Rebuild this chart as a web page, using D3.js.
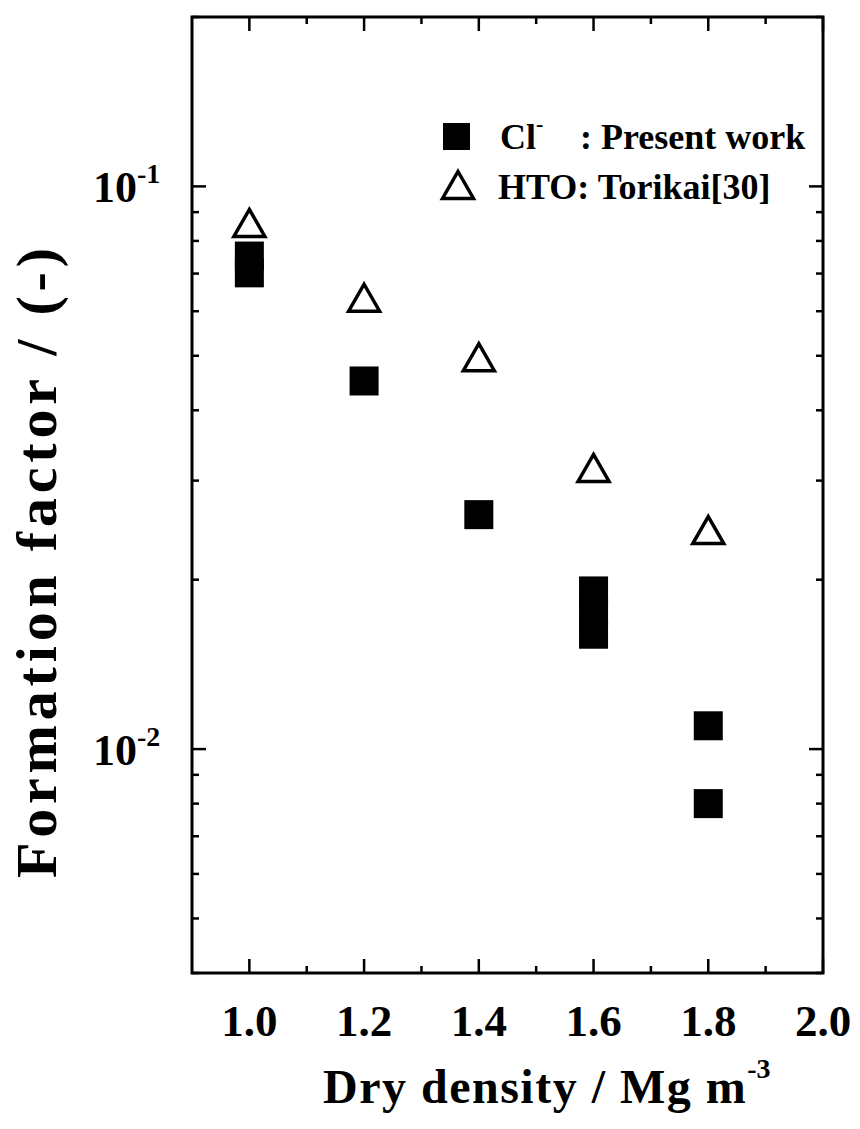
<!DOCTYPE html>
<html>
<head>
<meta charset="utf-8">
<script src="https://cdn.jsdelivr.net/npm/d3@7"></script>
<style>
  body { margin: 0; background: #fff; }
  text { font-family: "Liberation Serif", "Times New Roman", serif; font-weight: bold; fill: #000; }
</style>
</head>
<body>
<div id="viz"></div>
<script>
// data
var densities = [1.0, 1.2, 1.4, 1.6, 1.8];
var htoValues = [0.0861, 0.0634, 0.0497, 0.0316, 0.0245];
var clDensity = [1.0, 1.0, 1.2, 1.4, 1.6, 1.6, 1.6, 1.8, 1.8];
var clValues  = [0.0752, 0.0702, 0.0451, 0.0261, 0.0191, 0.0175, 0.0160, 0.0110, 0.0080];
var xTicks = [1.0, 1.2, 1.4, 1.6, 1.8, 2.0];
var xMinor = [1.1, 1.3, 1.5, 1.7, 1.9];
var yMajor = [0.01, 0.1];
var yMinor = [0.004, 0.005, 0.006, 0.007, 0.008, 0.009, 0.02, 0.03, 0.04, 0.05, 0.06, 0.07, 0.08, 0.09, 0.2];

var width = 860, height = 1129;
var plotL = 192, plotR = 823, plotT = 17, plotB = 973;

var x = d3.scaleLinear().domain([0.9, 2.0]).range([plotL, plotR]);
var y = d3.scaleLog().domain([0.004, 0.2]).range([plotB, plotT]);

var svg = d3.select('#viz').append('svg')
  .attr('width', width)
  .attr('height', height);

// ticks, all pointing inward on the four sides
var tk = svg.append('g').attr('stroke', '#000').attr('stroke-width', 2.5);
function xTick(v, len) {
  tk.append('line').attr('x1', x(v)).attr('x2', x(v)).attr('y1', plotB).attr('y2', plotB - len);
  tk.append('line').attr('x1', x(v)).attr('x2', x(v)).attr('y1', plotT).attr('y2', plotT + len);
}
function yTick(v, len) {
  tk.append('line').attr('y1', y(v)).attr('y2', y(v)).attr('x1', plotL).attr('x2', plotL + len);
  tk.append('line').attr('y1', y(v)).attr('y2', y(v)).attr('x1', plotR).attr('x2', plotR - len);
}
xTicks.forEach(d => xTick(d, 14));
xMinor.forEach(d => xTick(d, 7));
yMajor.forEach(d => yTick(d, 14));
yMinor.forEach(d => yTick(d, 7));

svg.append('rect')
  .attr('x', plotL).attr('y', plotT)
  .attr('width', plotR - plotL).attr('height', plotB - plotT)
  .attr('fill', 'none').attr('stroke', '#000').attr('stroke-width', 3);

// x tick labels
svg.append('g').selectAll('text')
  .data(xTicks)
  .join('text')
  .attr('x', d => x(d))
  .attr('y', 1036)
  .attr('text-anchor', 'middle')
  .style('font-size', '45px')
  .text(d => d.toFixed(1));

// y tick labels 10^n
var yl = svg.append('g').selectAll('text')
  .data(yMajor)
  .join('text')
  .attr('x', 93)
  .attr('y', d => y(d) + 16)
  .style('font-size', '44px');
yl.append('tspan').text('10');
yl.append('tspan')
  .attr('dy', -19)
  .style('font-size', '28px')
  .text(d => Math.round(Math.log10(d)));

// axis titles
var xt = svg.append('text')
  .attr('x', 323)
  .attr('y', 1103)
  .style('font-size', '48px')
  .style('letter-spacing', '1.5px');
xt.append('tspan').text('Dry density / Mg m');
xt.append('tspan').attr('dy', -25).style('font-size', '28px').style('letter-spacing', '0px').text('-3');

svg.append('text')
  .attr('transform', 'translate(56,563) rotate(-90)')
  .attr('text-anchor', 'middle')
  .attr('textLength', 630)
  .attr('lengthAdjust', 'spacing')
  .style('font-size', '58px')
  .text('Formation factor / (-)');

// markers
var sq = 29;
svg.append('g').selectAll('rect')
  .data(clValues)
  .join('rect')
  .attr('x', (d, i) => x(clDensity[i]) - sq / 2)
  .attr('y', d => y(d) - sq / 2)
  .attr('width', sq)
  .attr('height', sq)
  .attr('fill', '#000');

function tri(cx, cy) {
  var w = 31, h = 27;
  return 'M' + cx + ',' + (cy - h / 2) + 'L' + (cx + w / 2) + ',' + (cy + h / 2) + 'L' + (cx - w / 2) + ',' + (cy + h / 2) + 'Z';
}
svg.append('g').selectAll('path')
  .data(htoValues)
  .join('path')
  .attr('d', (d, i) => tri(x(densities[i]), y(d)))
  .attr('fill', 'none')
  .attr('stroke', '#000')
  .attr('stroke-width', 3.5)
  .attr('stroke-linejoin', 'miter');

// legend
var lg = svg.append('g');
lg.append('rect').attr('x', 443).attr('y', 123).attr('width', 27).attr('height', 27).attr('fill', '#000');
lg.append('path').attr('d', tri(458, 185)).attr('fill', 'none').attr('stroke', '#000').attr('stroke-width', 3.5);
var l1 = lg.append('text').attr('x', 500).attr('y', 149).style('font-size', '36px');
l1.append('tspan').text('Cl');
l1.append('tspan').attr('dy', -18).style('font-size', '22px').text('-');
lg.append('text').attr('x', 580).attr('y', 149).style('font-size', '36px').text(': Present work');
lg.append('text').attr('x', 498).attr('y', 199).style('font-size', '36px').text('HTO: Torikai[30]');
</script>
</body>
</html>
